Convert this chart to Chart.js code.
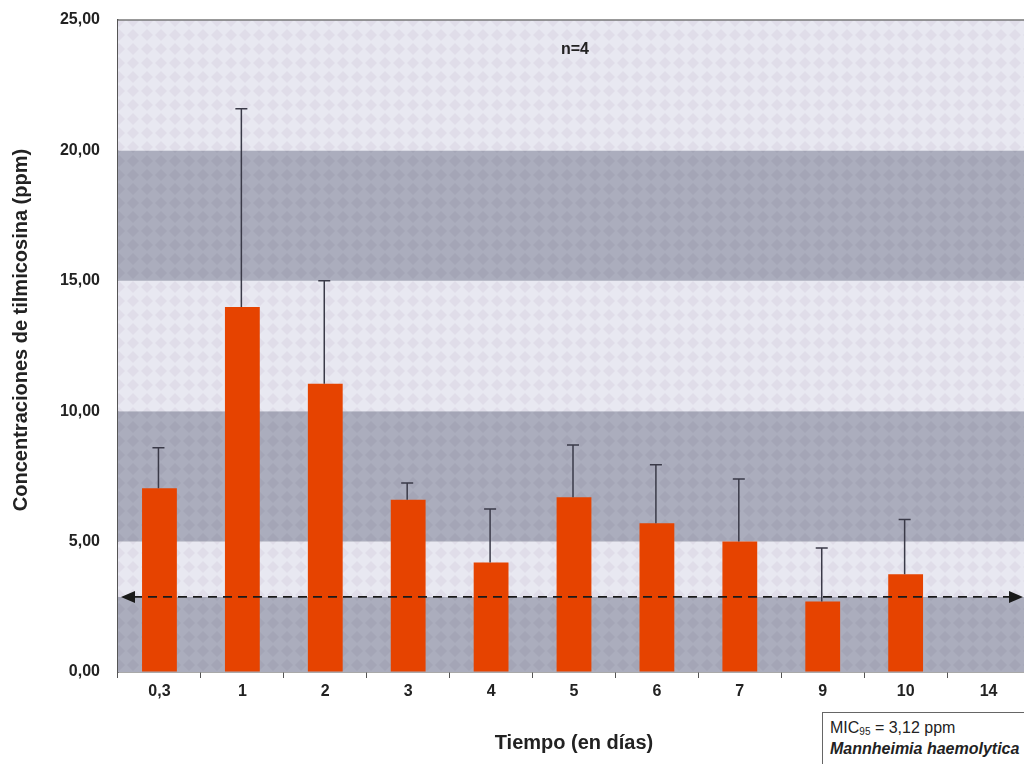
<!DOCTYPE html>
<html lang="es">
<head>
<meta charset="utf-8">
<title>Concentraciones de tilmicosina</title>
<script src="https://cdn.jsdelivr.net/npm/chart.js@4.4.1/dist/chart.umd.min.js"></script>
<style>
    html, body { margin: 0; padding: 0; background: #fff; overflow: hidden; }
    #caja { position: relative; width: 1024px; height: 764px; overflow: hidden; }
    #grafico { position: absolute; left: 0; top: 0; }
    #leyenda {
        position: absolute; left: 822px; top: 712px; width: 230px; height: 70px;
        border: 1.5px solid #666; background: #fff; color: #222;
        font-family: "Liberation Sans", Arial, sans-serif;
        font-size: 16px; line-height: 21px; padding: 4px 0 0 7px; box-sizing: border-box;
    }
    #leyenda sub { font-size: 10px; vertical-align: -2px; line-height: 0; }
    #leyenda i { font-weight: bold; }
</style>
</head>
<body>
<div id="caja">
    <canvas id="grafico" width="1030" height="764"></canvas>
    <div id="leyenda">MIC<sub>95</sub> = 3,12 ppm<br><i>Mannheimia haemolytica</i></div>
</div>
<script>
// datos
const dias = ['0,3', '1', '2', '3', '4', '5', '6', '7', '9', '10', '14'];
const medias = [7.05, 14.0, 11.05, 6.6, 4.2, 6.7, 5.7, 5.0, 2.7, 3.75, null];
const desvios = [1.55, 7.6, 3.95, 0.65, 2.05, 2.0, 2.25, 2.4, 2.05, 2.1, null];
const lineaMIC = 2.88;
const limitesBandas = [0, 2.88, 5, 10, 15, 20, 25];
const tonoBandas = ['oscuro', 'claro', 'oscuro', 'claro', 'oscuro', 'claro'];

const fuente = '"Liberation Sans", Arial, sans-serif';

// textura de rombos del fondo
function crearTrama(base, rombo) {
    const c = document.createElement('canvas');
    c.width = 14; c.height = 14;
    const g = c.getContext('2d');
    g.fillStyle = base;
    g.fillRect(0, 0, 14, 14);
    g.fillStyle = rombo;
    g.beginPath();
    g.moveTo(7, 1); g.lineTo(13, 7); g.lineTo(7, 13); g.lineTo(1, 7);
    g.closePath();
    g.fill();
    return g.createPattern(c, 'repeat');
}

const fondoBandas = {
    id: 'fondoBandas',
    beforeDatasetsDraw(chart) {
        const { ctx, chartArea, scales } = chart;
        const tramas = {
            claro: crearTrama('#e8e8f1', '#e0dde9'),
            oscuro: crearTrama('#abadbd', '#a4a5b6')
        };
        ctx.save();
        for (let i = 0; i < tonoBandas.length; i++) {
            const y1 = scales.y.getPixelForValue(limitesBandas[i]);
            const y2 = scales.y.getPixelForValue(limitesBandas[i + 1]);
            ctx.fillStyle = tramas[tonoBandas[i]];
            ctx.fillRect(chartArea.left, y2, chartArea.right - chartArea.left, y1 - y2);
        }
        // borde superior
        ctx.strokeStyle = '#777';
        ctx.lineWidth = 1.5;
        ctx.beginPath();
        ctx.moveTo(chartArea.left, chartArea.top);
        ctx.lineTo(chartArea.right, chartArea.top);
        ctx.stroke();
        ctx.restore();
    }
};

const barrasError = {
    id: 'barrasError',
    afterDatasetsDraw(chart) {
        const { ctx, scales, chartArea } = chart;
        const meta = chart.getDatasetMeta(0);
        ctx.save();
        ctx.strokeStyle = '#3a3a48';
        ctx.lineWidth = 1.5;
        for (let i = 0; i < medias.length; i++) {
            if (medias[i] == null) continue;
            const x = meta.data[i].x - 1;
            const yb = scales.y.getPixelForValue(medias[i]);
            const yt = scales.y.getPixelForValue(medias[i] + desvios[i]);
            ctx.beginPath();
            ctx.moveTo(x, yb);
            ctx.lineTo(x, yt);
            ctx.moveTo(x - 6, yt);
            ctx.lineTo(x + 6, yt);
            ctx.stroke();
        }

        // linea de la MIC con flechas
        const y = scales.y.getPixelForValue(lineaMIC);
        const xi = chartArea.left + 3;
        const xf = chartArea.right - 7;
        ctx.strokeStyle = '#1a1a1a';
        ctx.fillStyle = '#1a1a1a';
        ctx.lineWidth = 1.8;
        ctx.setLineDash([9, 6]);
        ctx.beginPath();
        ctx.moveTo(xi + 12, y);
        ctx.lineTo(xf - 12, y);
        ctx.stroke();
        ctx.setLineDash([]);
        ctx.beginPath();
        ctx.moveTo(xi, y); ctx.lineTo(xi + 14, y - 6); ctx.lineTo(xi + 14, y + 6); ctx.closePath();
        ctx.moveTo(xf, y); ctx.lineTo(xf - 14, y - 6); ctx.lineTo(xf - 14, y + 6); ctx.closePath();
        ctx.fill();
        ctx.restore();
    }
};

const textos = {
    id: 'textos',
    afterDraw(chart) {
        const { ctx, chartArea } = chart;
        ctx.save();
        ctx.fillStyle = '#222';
        ctx.textAlign = 'center';
        ctx.textBaseline = 'middle';
        ctx.font = 'bold 20px ' + fuente;
        ctx.fillText('Tiempo (en días)', (chartArea.left + chartArea.right) / 2, 743);
        ctx.font = 'bold 16px ' + fuente;
        ctx.fillText('n=4', 575, 50);
        ctx.translate(21, 330);
        ctx.rotate(-Math.PI / 2);
        ctx.font = 'bold 20px ' + fuente;
        ctx.fillText('Concentraciones de tilmicosina (ppm)', 0, 0);
        ctx.restore();
    }
};

new Chart(document.getElementById('grafico'), {
    type: 'bar',
    data: {
        labels: dias,
        datasets: [{
            data: medias,
            backgroundColor: '#e64300',
            borderWidth: 0,
            barPercentage: 0.42,
            categoryPercentage: 1
        }]
    },
    options: {
        responsive: false,
        animation: false,
        layout: { padding: { top: 20, left: 0, right: 0, bottom: 0 } },
        plugins: { legend: { display: false }, tooltip: { enabled: false } },
        scales: {
            x: {
                afterFit(scale) { scale.height = 92; },
                grid: { drawOnChartArea: false, drawTicks: true, tickLength: 6, color: '#555', offset: true },
                border: { display: true, color: '#555', width: 1.5 },
                ticks: { color: '#222', padding: 4, font: { family: fuente, size: 16, weight: 'bold' } }
            },
            y: {
                min: 0,
                max: 25,
                afterFit(scale) {
                    scale.width = 118;
                    scale.paddingTop = 0;
                    scale.paddingBottom = 0;
                },
                grid: { drawOnChartArea: false, drawTicks: false },
                border: { display: true, color: '#555', width: 1.5 },
                ticks: {
                    stepSize: 5,
                    color: '#222',
                    padding: 18,
                    font: { family: fuente, size: 16, weight: 'bold' },
                    callback: function (v) { return v.toFixed(2).replace('.', ','); }
                }
            }
        }
    },
    plugins: [fondoBandas, barrasError, textos]
});
</script>
</body>
</html>
